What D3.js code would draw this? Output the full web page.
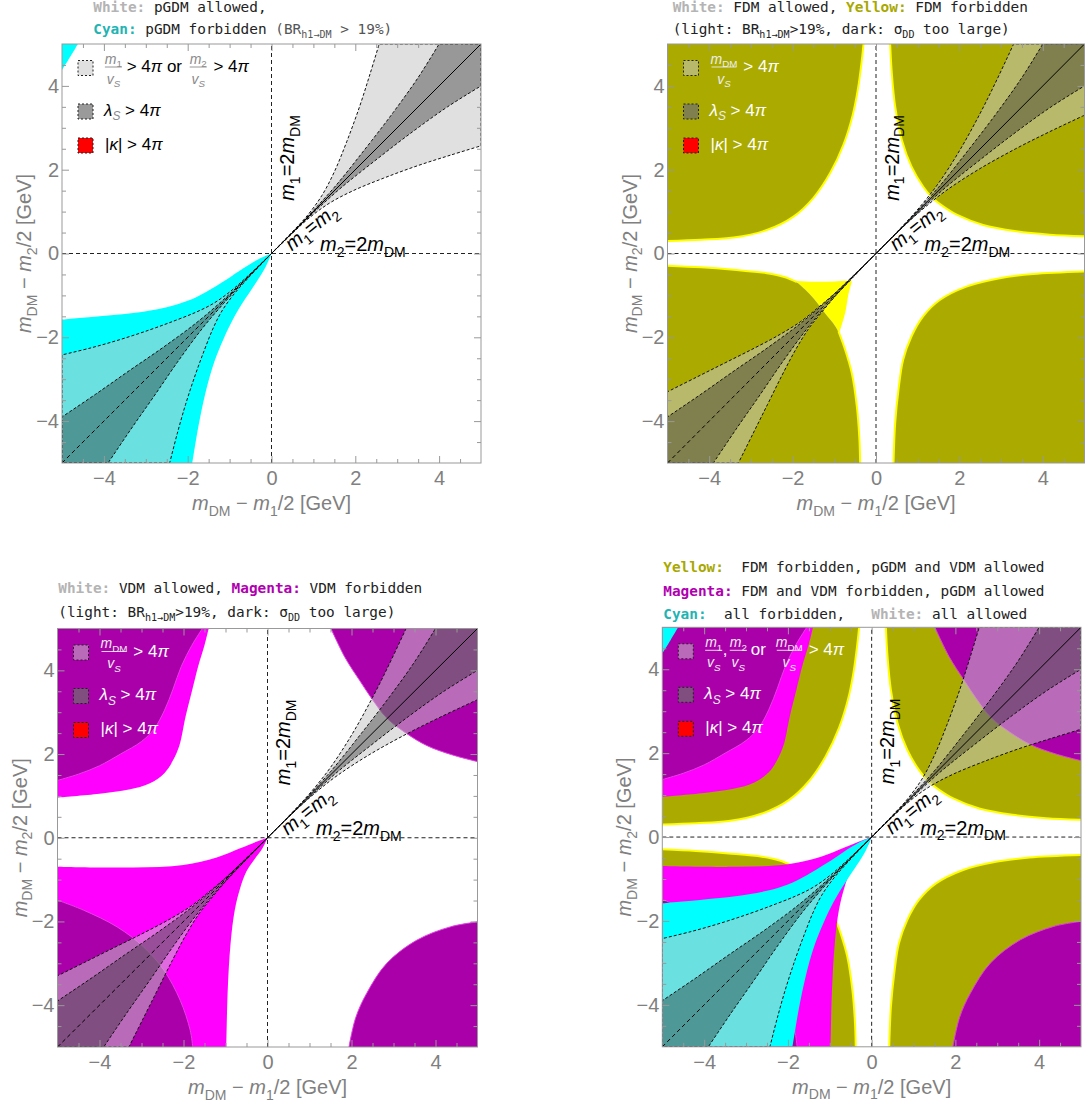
<!DOCTYPE html>
<html><head><meta charset="utf-8">
<script src="https://cdn.jsdelivr.net/npm/d3@7"></script>
<style>body{margin:0;background:#fff}svg{display:block}text{white-space:pre}</style>
</head><body><svg id="c" width="1085" height="1104"></svg>
<script>
// ---------------- DATA (data units: GeV) ----------------
const domain = [-5, 5];
const majorTicks = [-4, -2, 0, 2, 4];
const minorTicks = [-4.5,-3.5,-3,-2.5,-1.5,-1,-0.5,0.5,1,1.5,2.5,3,3.5,4.5];

// diagonal bands, upper-right quadrant ("up" = above m1=m2 line, "dn" = below)
const bandA_up = [[0,0],[0.5,0.52],[0.85,0.9],[1.2,1.38],[1.5,1.95],[1.8,2.68],[2.1,3.5],[2.35,4.28],[2.57,5]];
const bandA_dn = [[0,0],[0.52,0.5],[0.9,0.85],[1.38,1.2],[1.95,1.5],[2.68,1.8],[3.5,2.1],[4.28,2.35],[5,2.57]];
const bandB_up = [[0,0],[0.8,0.82],[1.5,1.58],[2.2,2.45],[2.9,3.36],[3.5,4.2],[4.0,5]];
const bandB_dn = [[0,0],[0.82,0.8],[1.58,1.5],[2.45,2.2],[3.36,2.9],[4.2,3.5],[5,4.0]];
const bandC_up = [[0,0],[0.7,0.72],[1.1,1.17],[1.5,1.68],[2.0,2.45],[2.5,3.35],[2.9,4.15],[3.3,5]];
const bandC_dn = [[0,0],[0.72,0.7],[1.17,1.1],[1.68,1.5],[2.45,2.0],[3.35,2.5],[4.15,2.9],[5,3.3]];
// diagonal bands, lower-left quadrant
const bandA2_up = [[-5,-2.42],[-4.3,-2.25],[-3.6,-2.05],[-2.9,-1.82],[-2.3,-1.6],[-1.8,-1.4],[-1.4,-1.2],[-1.0,-0.92],[-0.6,-0.57],[0,0]];
const bandA2_dn = [[0,0],[-0.57,-0.6],[-0.92,-1.0],[-1.2,-1.4],[-1.4,-1.8],[-1.6,-2.3],[-1.82,-2.9],[-2.05,-3.6],[-2.25,-4.3],[-2.43,-5]];
const bandB2_up = [[-5,-3.9],[-4.2,-3.36],[-3.4,-2.8],[-2.6,-2.25],[-1.8,-1.66],[-1.2,-1.15],[-0.6,-0.59],[0,0]];
const bandB2_dn = [[0,0],[-0.59,-0.6],[-1.15,-1.2],[-1.66,-1.8],[-2.25,-2.6],[-2.8,-3.4],[-3.36,-4.2],[-3.9,-5]];
const bandC2_up = [[-5,-3.3],[-4.3,-2.95],[-3.6,-2.6],[-2.9,-2.25],[-2.3,-1.93],[-1.8,-1.62],[-1.4,-1.3],[-1.0,-0.96],[-0.6,-0.58],[0,0]];
const bandC2_dn = [[0,0],[-0.58,-0.6],[-0.96,-1.0],[-1.3,-1.4],[-1.62,-1.8],[-1.93,-2.3],[-2.25,-2.9],[-2.6,-3.6],[-2.95,-4.3],[-3.3,-5]];

// pGDM: BR(h1->DM) > 19% (cyan)
const cyanTL_a = [[-5,5],[-4.62,5]];
const cyanTL_b = [[-4.62,5],[-4.8,4.7],[-5,4.38]];
const cyanLL_up = [[-5,-1.58],[-4.1,-1.5],[-3.3,-1.42],[-2.5,-1.28],[-2.0,-1.13],[-1.55,-0.91],[-1.07,-0.62],[-0.68,-0.36],[-0.3,-0.13],[0,0]];
const cyanLL_rt = [[0,0],[-0.13,-0.3],[-0.36,-0.68],[-0.62,-1.07],[-0.91,-1.55],[-1.15,-2.05],[-1.37,-2.6],[-1.57,-3.3],[-1.74,-4.1],[-1.89,-5]];

// FDM forbidden (olive) boundaries
const oliveUL = [[-5,0.30],[-4.2,0.33],[-3.42,0.38],[-2.62,0.56],[-1.98,0.88],[-1.5,1.33],[-1.1,1.92],[-0.78,2.6],[-0.56,3.3],[-0.43,3.95],[-0.34,4.62],[-0.30,5]];
const oliveUR = [[0.34,5],[0.38,4.3],[0.46,3.51],[0.62,2.71],[0.85,2.08],[1.13,1.6],[1.35,1.33],[1.62,1.12],[1.95,0.92],[2.57,0.68],[3.37,0.53],[4.17,0.45],[5,0.41]];
const oliveLR = [[0.42,-5],[0.46,-4.05],[0.54,-3.25],[0.65,-2.54],[0.85,-1.98],[1.13,-1.5],[1.53,-1.11],[2.17,-0.79],[2.97,-0.59],[3.77,-0.49],[5,-0.43]];
const oliveLL_top = [[-5,-0.29],[-4.2,-0.33],[-3.42,-0.39],[-2.62,-0.47],[-2.2,-0.56],[-1.9,-0.68]];
const oliveLL_right = [[-0.9,-1.86],[-0.74,-2.3],[-0.58,-2.86],[-0.46,-3.65],[-0.40,-4.4],[-0.38,-5]];
const yellowWedge_left = [[-1.9,-0.68],[-1.7,-0.86],[-1.5,-1.07],[-1.32,-1.3],[-1.18,-1.48],[-1.03,-1.66],[-0.9,-1.86]];
const yellowWedge_top = [[-1.9,-0.68],[-1.5,-0.7],[-1.0,-0.69],[-0.6,-0.66]];
const yellowWedge_right = [[-0.6,-0.66],[-0.68,-0.95],[-0.76,-1.4],[-0.84,-1.68],[-0.9,-1.86]];

// VDM forbidden (magenta) boundaries
const magBrightUL = [[-5,0.96],[-4.0,1.05],[-3.3,1.15],[-2.8,1.3],[-2.45,1.55],[-2.25,1.85],[-2.1,2.2],[-1.95,2.9],[-1.8,3.5],[-1.65,4.1],[-1.5,4.6],[-1.4,5]];
const magDarkUL = [[-5,1.37],[-4.5,1.52],[-4.0,1.72],[-3.5,2.0],[-3.0,2.3],[-2.7,2.6],[-2.45,3.05],[-2.25,3.55],[-2.05,4.1],[-1.8,4.6],[-1.55,5]];
const magDarkUR = [[1.51,5],[1.85,4.3],[2.2,3.75],[2.5,3.3],[2.85,2.85],[3.3,2.5],[3.8,2.2],[4.4,1.98],[5,1.82]];
const magDarkLR = [[1.94,-5],[2.1,-4.3],[2.36,-3.72],[2.84,-3.0],[3.55,-2.45],[4.35,-2.13],[5,-2.01]];
const magDarkLL = [[-5,-1.49],[-4.38,-1.73],[-3.58,-2.13],[-2.95,-2.61],[-2.47,-3.16],[-2.08,-3.88],[-1.84,-4.6],[-1.78,-5]];
const magBrightLL_top = [[-5,-0.69],[-3.2,-0.71],[-2.0,-0.65],[-1.21,-0.47],[-0.65,-0.25],[-0.25,-0.09],[0,0]];
const magBrightLL_rt = [[0,0],[-0.12,-0.25],[-0.3,-0.5],[-0.5,-0.8],[-0.65,-1.2],[-0.78,-1.73],[-0.88,-2.53],[-0.95,-3.72],[-0.98,-5]];

// ---------------- STYLE ----------------
const FONT = '"Liberation Sans", Arial, sans-serif';
const MONO = '"DejaVu Sans Mono", monospace';
const C = {cyan:'#00ffff', olive:'#aaaa00', yellow:'#ffff00', magB:'#ff00ff', magD:'#aa00aa',
  light:'rgba(198,198,198,0.54)', dark:'rgba(30,30,30,0.37)'};

const svg = d3.select('#c');
const defs = svg.append('defs');

function rich(parent, x, y, segs, base){
  const t = parent.append('text').attr('x',x).attr('y',y)
    .attr('font-family', base.font||FONT).attr('font-size', base.size).attr('fill', base.fill||'#000');
  if(base.anchor) t.attr('text-anchor', base.anchor);
  if(base.transform) t.attr('transform', base.transform);
  let shift = 0;
  segs.forEach(s=>{
    if(typeof s==='string') s={t:s};
    const sp = t.append('tspan').text(s.t);
    const want = s.sub ? base.size*0.28 : 0;
    if(want!==shift){ sp.attr('dy', want-shift); shift=want; }
    if(s.sub) sp.attr('font-size', base.size*0.7);
    if(s.it) sp.attr('font-style','italic');
    if(s.b) sp.attr('font-weight','bold');
    if(s.fill) sp.attr('fill', s.fill);
  });
  return t;
}

function regionPath(parts, x, y){
  let d='';
  parts.forEach((pts,i)=>{
    const gen = d3.line().x(q=>x(q[0])).y(q=>y(q[1]))
      .curve(pts.length>2 ? d3.curveCatmullRom.alpha(0.5) : d3.curveLinear);
    const s = gen(pts).replace(/Z$/,'');
    d += i===0 ? s : 'L'+s.slice(1);
  });
  return d+'Z';
}
function curvePath(pts,x,y){
  return d3.line().x(q=>x(q[0])).y(q=>y(q[1])).curve(d3.curveCatmullRom.alpha(0.5))(pts);
}

function panel(geom, id){
  const g = svg.append('g').attr('transform',`translate(${geom.l},${geom.t})`);
  const x = d3.scaleLinear().domain(domain).range([0, geom.w]);
  const y = d3.scaleLinear().domain(domain).range([geom.h, 0]);
  defs.append('clipPath').attr('id','clip-'+id).append('rect').attr('width',geom.w).attr('height',geom.h);
  const layer = g.append('g').attr('clip-path',`url(#clip-${id})`);
  return {g, x, y, layer, geom};
}

function fillRegion(P, parts, fill){
  return P.layer.append('path').attr('d', regionPath(parts, P.x, P.y)).attr('fill', fill);
}
function strokeCurve(P, pts, color, w, dash){
  const p = P.layer.append('path').attr('d', curvePath(pts,P.x,P.y)).attr('fill','none').attr('stroke',color).attr('stroke-width',w);
  if(dash) p.attr('stroke-dasharray',dash);
}
function bandUR(P, up, dn, fill){
  P.layer.append('path').attr('d', regionPath([up,[[5,5]],dn.slice().reverse()],P.x,P.y))
    .attr('fill',fill).attr('stroke','#111').attr('stroke-width',1).attr('stroke-dasharray','3,2');
}
function bandLL(P, up, dn, fill){
  P.layer.append('path').attr('d', regionPath([[[-5,-5]],up,dn],P.x,P.y))
    .attr('fill',fill).attr('stroke','#111').attr('stroke-width',1).attr('stroke-dasharray','3,2');
}

function refLines(P){
  const {layer,x,y} = P;
  layer.append('line').attr('x1',x(0)).attr('x2',x(0)).attr('y1',y(-5)).attr('y2',y(5))
    .attr('stroke','#222').attr('stroke-width',1).attr('stroke-dasharray','4,3');
  layer.append('line').attr('x1',x(-5)).attr('x2',x(5)).attr('y1',y(0)).attr('y2',y(0))
    .attr('stroke','#222').attr('stroke-width',1).attr('stroke-dasharray','4,3');
  layer.append('line').attr('x1',x(0)).attr('x2',x(5)).attr('y1',y(0)).attr('y2',y(5))
    .attr('stroke','#000').attr('stroke-width',1);
  layer.append('line').attr('x1',x(-5)).attr('x2',x(0)).attr('y1',y(-5)).attr('y2',y(0))
    .attr('stroke','#000').attr('stroke-width',1).attr('stroke-dasharray','4,3');
  const ox = x(0), oy = y(0);
  rich(P.g, 0, 0, [{t:'m',it:true},{t:'1',sub:true},'=2',{t:'m',it:true},{t:'DM',sub:true}],
    {size:20, anchor:'middle', transform:`translate(${ox+22.5},${y(2.28)}) rotate(-90)`});
  rich(P.g, 0, 7, [{t:'m',it:true},{t:'1',sub:true},'=',{t:'m',it:true},{t:'2',sub:true}],
    {size:20, anchor:'middle', transform:`translate(${ox+39.5},${oy-26.5}) rotate(-39)`});
  rich(P.g, ox+48.5, oy-2.5, [{t:'m',it:true},{t:'2',sub:true},'=2',{t:'m',it:true},{t:'DM',sub:true}], {size:20});
}

function axes(P){
  const {g,x,y,geom} = P;
  const fmt = d => d<0 ? '\u2212'+Math.abs(d) : String(d);
  const style = sel => { sel.select('.domain').remove(); sel.selectAll('line').attr('stroke','#999');
    sel.selectAll('text').attr('fill','#808080').attr('font-size',20).attr('font-family',FONT); };
  g.append('g').attr('transform',`translate(0,${geom.h})`)
    .call(d3.axisBottom(x).tickValues(majorTicks).tickSizeInner(-7).tickSizeOuter(0).tickPadding(8).tickFormat(fmt)).call(style);
  g.append('g').attr('transform',`translate(0,${geom.h})`)
    .call(d3.axisBottom(x).tickValues(minorTicks).tickSizeInner(-4).tickSizeOuter(0).tickFormat('')).call(style);
  g.append('g').call(d3.axisTop(x).tickValues(majorTicks).tickSizeInner(-7).tickSizeOuter(0).tickFormat('')).call(style);
  g.append('g').call(d3.axisTop(x).tickValues(minorTicks).tickSizeInner(-4).tickSizeOuter(0).tickFormat('')).call(style);
  g.append('g').call(d3.axisLeft(y).tickValues(majorTicks).tickSizeInner(-7).tickSizeOuter(0).tickPadding(3).tickFormat(fmt)).call(style);
  g.append('g').call(d3.axisLeft(y).tickValues(minorTicks).tickSizeInner(-4).tickSizeOuter(0).tickFormat('')).call(style);
  g.append('g').attr('transform',`translate(${geom.w},0)`)
    .call(d3.axisRight(y).tickValues(majorTicks).tickSizeInner(-7).tickSizeOuter(0).tickFormat('')).call(style);
  g.append('g').attr('transform',`translate(${geom.w},0)`)
    .call(d3.axisRight(y).tickValues(minorTicks).tickSizeInner(-4).tickSizeOuter(0).tickFormat('')).call(style);
  g.append('rect').attr('width',geom.w).attr('height',geom.h).attr('fill','none').attr('stroke','#999').attr('stroke-width',1);
  rich(g, geom.w/2, geom.h+47, [{t:'m',it:true},{t:'DM',sub:true},' \u2212 ',{t:'m',it:true},{t:'1',sub:true},'/2 [GeV]'],
    {size:20, fill:'#808080', anchor:'middle'});
  rich(g, 0, 0, [{t:'m',it:true},{t:'DM',sub:true},' \u2212 ',{t:'m',it:true},{t:'2',sub:true},'/2 [GeV]'],
    {size:20, fill:'#808080', anchor:'middle', transform:`translate(-31,${geom.h/2}) rotate(-90)`});
}

function frac(g, cx, barY, w, num, fill){
  rich(g, cx, barY-3.5, num, {size:14, fill, anchor:'middle'});
  g.append('line').attr('x1',cx-w/2).attr('x2',cx+w/2).attr('y1',barY).attr('y2',barY).attr('stroke',fill).attr('stroke-width',0.9);
  rich(g, cx, barY+16.5, [{t:'v',it:true},{t:'S',it:true,sub:true}], {size:14, fill, anchor:'middle'});
}

function legend(P, boxes, tfill, ffill, kind){
  const g = P.g;
  const cys = [24, 67.5, 101.5], bx = 16, tx = 43;
  boxes.forEach((c,i)=> g.append('rect').attr('x',bx).attr('y',cys[i]-7.5).attr('width',15).attr('height',15)
    .attr('fill',c).attr('stroke','#222').attr('stroke-width',1).attr('stroke-dasharray','2,2'));
  const m1 = [{t:'m',it:true},{t:'1',sub:true}], m2 = [{t:'m',it:true},{t:'2',sub:true}], mdm = [{t:'m',it:true},{t:'DM',sub:true}];
  const by = cys[0]-1, ty = cys[0]+4;
  if(kind==='p1'){
    frac(g, tx+8.4, by, 17, m1, ffill);
    rich(g, tx+21.7, ty, ['> 4',{t:'\u03c0',it:true},' or'], {size:17, fill:tfill});
    frac(g, tx+93.2, by, 17, m2, ffill);
    rich(g, tx+108.4, ty, ['> 4',{t:'\u03c0',it:true}], {size:17, fill:tfill});
  } else if(kind==='dm'){
    frac(g, tx+13.5, by, 25, mdm, ffill);
    rich(g, tx+32.8, ty, ['> 4',{t:'\u03c0',it:true}], {size:17, fill:tfill});
  } else {
    frac(g, tx+8.4, by, 17, m1, ffill);
    rich(g, tx+17.5, ty, [','], {size:17, fill:tfill});
    frac(g, tx+33, by, 17, m2, ffill);
    rich(g, tx+45.5, ty, ['or'], {size:17, fill:tfill});
    frac(g, tx+84, by, 25, mdm, ffill);
    rich(g, tx+103.4, ty, ['> 4',{t:'\u03c0',it:true}], {size:17, fill:tfill});
  }
  rich(g, tx-1, cys[1]+4, [{t:'\u03bb',it:true},{t:'S',it:true,sub:true,fill:ffill},' > 4',{t:'\u03c0',it:true}], {size:17, fill:tfill});
  rich(g, tx, cys[2]+4, ['|',{t:'\u03ba',it:true},'| > 4',{t:'\u03c0',it:true}], {size:17, fill:tfill});
}

function title(x, y, segs){ rich(svg, x, y, segs, {size:14.4, font:MONO, fill:'#222'}); }
const WHITE = '#b4b4b4', CYANT = '#22b3b3', YELT = '#a8a800', MAGT = '#b000b0';

// ---------------- PANEL 1: pGDM ----------------
{
  const P = panel({l:62,t:44,w:419,h:419}, 'p1');
  fillRegion(P, [cyanTL_a, cyanTL_b], C.cyan);
  fillRegion(P, [[[-5,-5]], cyanLL_up, cyanLL_rt], C.cyan);
  bandLL(P, bandA2_up, bandA2_dn, C.light);
  bandLL(P, bandB2_up, bandB2_dn, C.dark);
  bandUR(P, bandA_up, bandA_dn, C.light);
  bandUR(P, bandB_up, bandB_dn, C.dark);
  refLines(P);
  legend(P, ['#e0e0e0','#9a9a9a','#ff0000'], '#000', '#8a8a8a', 'p1');
  axes(P);
  title(93.3, 11.5, [{t:'White:',b:true,fill:WHITE},' pGDM allowed,']);
  title(93.3, 34, [{t:'Cyan:',b:true,fill:CYANT},' pGDM forbidden ',{t:'(BR',fill:'#555'},{t:'h1\u2192DM',sub:true,fill:'#555'},{t:' > 19%)',fill:'#555'}]);
}

// ---------------- PANEL 2: FDM ----------------
function drawOlive(P, withWedge){
  if(withWedge) fillRegion(P, [yellowWedge_top, yellowWedge_right, yellowWedge_left.slice().reverse()], C.yellow);
  fillRegion(P, [[[-5,5]], oliveUL], C.olive);
  fillRegion(P, [oliveUR, [[5,5]]], C.olive);
  fillRegion(P, [oliveLR, [[5,-5]]], C.olive);
  fillRegion(P, [[[-5,-5]], oliveLL_top, yellowWedge_left, oliveLL_right], C.olive);
  [oliveUL, oliveUR, oliveLR, oliveLL_top, oliveLL_right].forEach(c=>strokeCurve(P, c, C.yellow, 2));
  if(withWedge){ strokeCurve(P, yellowWedge_top, C.yellow, 2); strokeCurve(P, yellowWedge_right, C.yellow, 2); }
}
{
  const P = panel({l:667.5,t:44,w:417,h:419}, 'p2');
  drawOlive(P, true);
  bandLL(P, bandC2_up, bandC2_dn, C.light);
  bandLL(P, bandB2_up, bandB2_dn, C.dark);
  bandUR(P, bandC_up, bandC_dn, C.light);
  bandUR(P, bandB_up, bandB_dn, C.dark);
  refLines(P);
  legend(P, ['#b9b96b','#80804f','#ff0000'], '#fff', '#eee', 'dm');
  axes(P);
  title(672.7, 11.5, [{t:'White:',b:true,fill:WHITE},' FDM allowed, ',{t:'Yellow:',b:true,fill:YELT},' FDM forbidden']);
  title(672.7, 34, ['(light: BR',{t:'h1\u2192DM',sub:true},'>19%, dark: \u03c3',{t:'DD',sub:true},' too large)']);
}

// ---------------- PANEL 3: VDM ----------------
function drawMagenta(P){
  fillRegion(P, [[[-5,5]], magBrightUL], C.magB);
  fillRegion(P, [[[-5,-5]], magBrightLL_top, magBrightLL_rt], C.magB);
  fillRegion(P, [[[-5,5]], magDarkUL], C.magD);
  fillRegion(P, [magDarkUR, [[5,5]]], C.magD);
  fillRegion(P, [magDarkLR, [[5,-5]]], C.magD);
  fillRegion(P, [[[-5,-5]], magDarkLL], C.magD);
  [magDarkUL, magDarkUR, magDarkLR, magDarkLL].forEach(c=>strokeCurve(P, c, '#e23fe2', 1));
}
{
  const P = panel({l:57.5,t:628.5,w:420,h:418.5}, 'p3');
  drawMagenta(P);
  bandLL(P, bandC2_up, bandC2_dn, C.light);
  bandLL(P, bandB2_up, bandB2_dn, C.dark);
  bandUR(P, bandC_up, bandC_dn, C.light);
  bandUR(P, bandB_up, bandB_dn, C.dark);
  refLines(P);
  legend(P, ['#b96bb9','#804f80','#ff0000'], '#fff', '#eee', 'dm');
  axes(P);
  title(58.3, 593, [{t:'White:',b:true,fill:WHITE},' VDM allowed, ',{t:'Magenta:',b:true,fill:MAGT},' VDM forbidden']);
  title(58.3, 617, ['(light: BR',{t:'h1\u2192DM',sub:true},'>19%, dark: \u03c3',{t:'DD',sub:true},' too large)']);
}

// ---------------- PANEL 4: combined ----------------
{
  const P = panel({l:662.3,t:627.3,w:418.7,h:419.5}, 'p4');
  drawOlive(P, false);
  drawMagenta(P);
  fillRegion(P, [cyanTL_a, cyanTL_b], C.cyan);
  fillRegion(P, [[[-5,-5]], cyanLL_up, cyanLL_rt], C.cyan);
  bandLL(P, bandA2_up, bandA2_dn, C.light);
  bandLL(P, bandB2_up, bandB2_dn, C.dark);
  bandUR(P, bandA_up, bandA_dn, C.light);
  bandUR(P, bandB_up, bandB_dn, C.dark);
  refLines(P);
  legend(P, ['#b96bb9','#804f80','#ff0000'], '#fff', '#eee', 'all');
  axes(P);
  title(663.3, 572, [{t:'Yellow:',b:true,fill:YELT},'  FDM forbidden, pGDM and VDM allowed']);
  title(663.3, 596, [{t:'Magenta:',b:true,fill:MAGT},' FDM and VDM forbidden, pGDM allowed']);
  title(663.3, 619, [{t:'Cyan:',b:true,fill:CYANT},'  all forbidden,   ',{t:'White:',b:true,fill:WHITE},' all allowed']);
}
</script></body></html>
